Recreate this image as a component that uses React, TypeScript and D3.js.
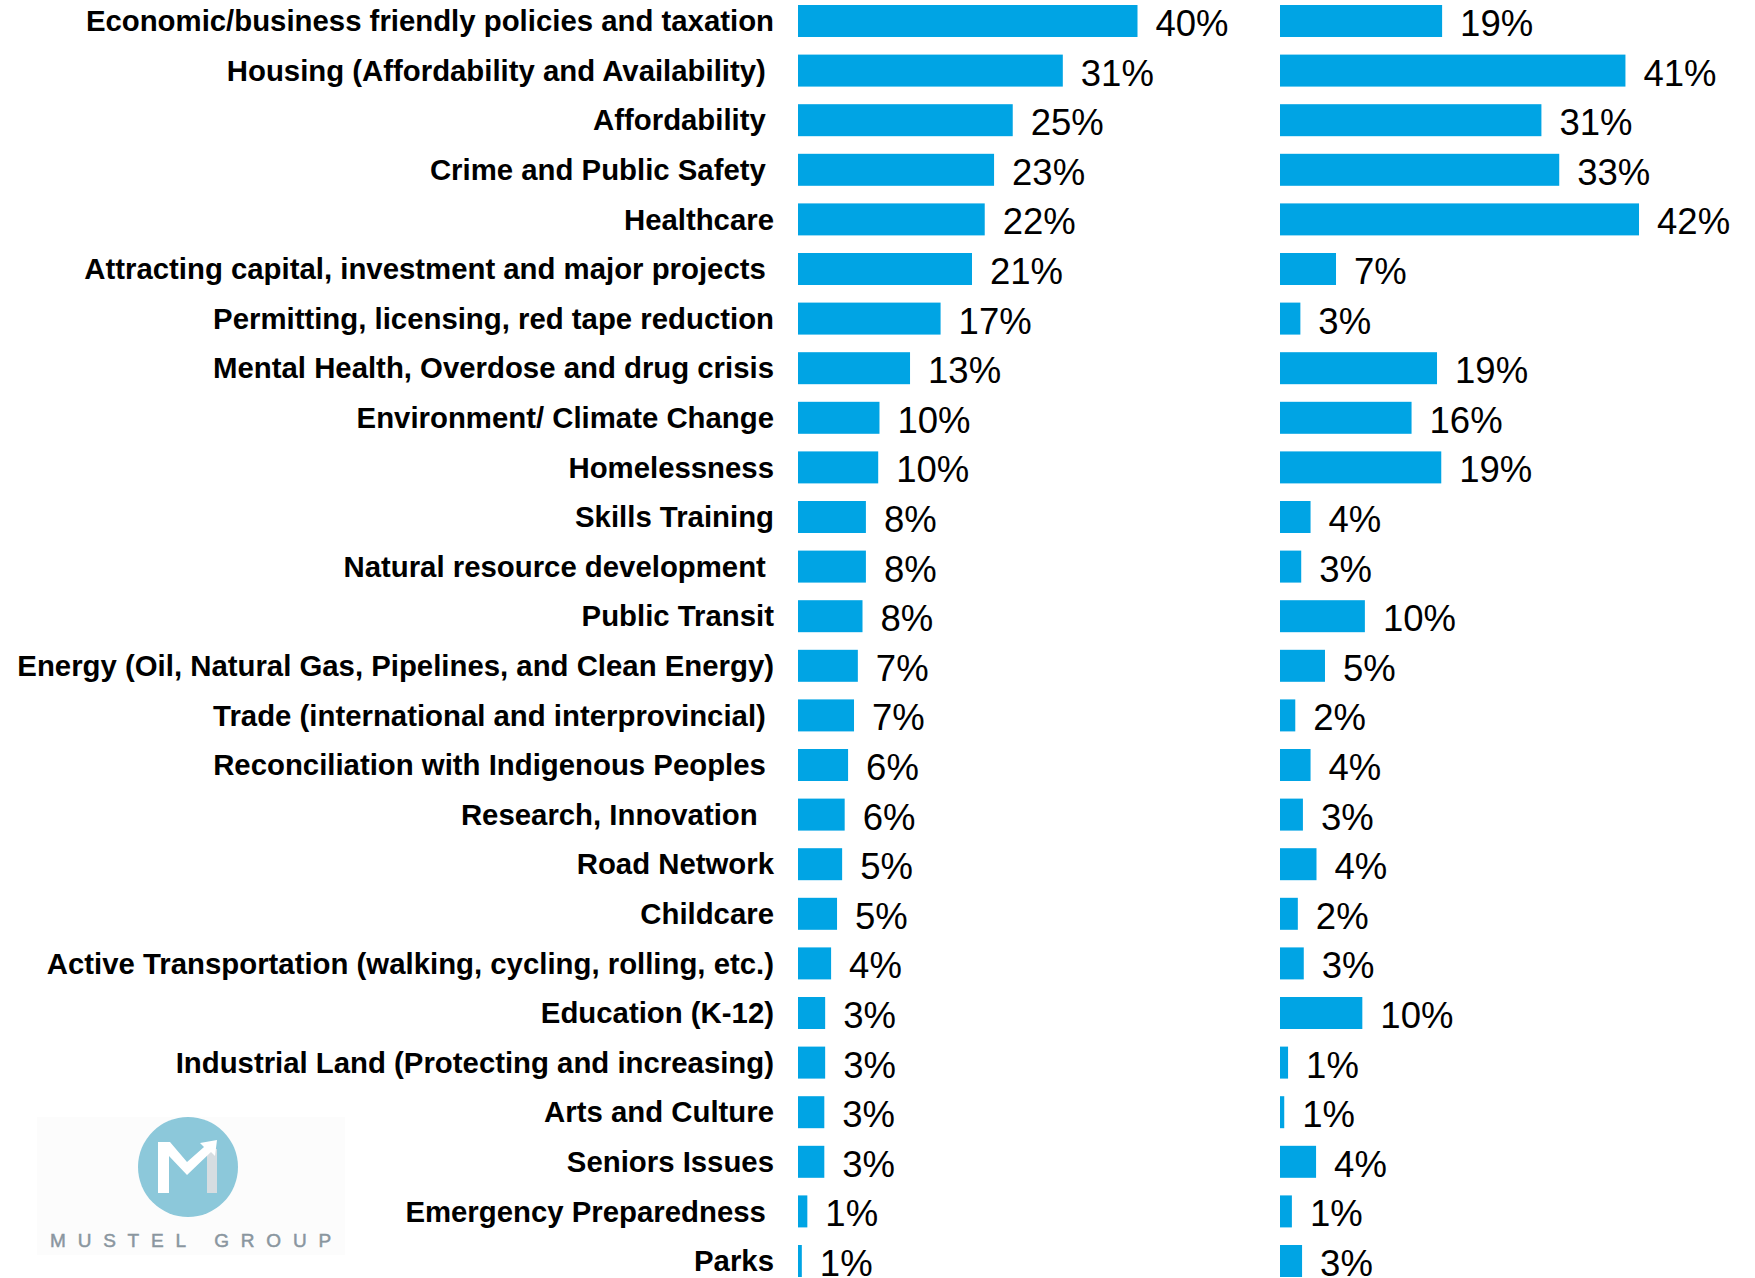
import React from "react";
import * as d3 from "d3";

// Category labels (some original labels carry trailing spaces)
const categories = [
  "Economic/business friendly policies and taxation",
  "Housing (Affordability and Availability) ",
  "Affordability ",
  "Crime and Public Safety ",
  "Healthcare",
  "Attracting capital, investment and major projects ",
  "Permitting, licensing, red tape reduction",
  "Mental Health, Overdose and drug crisis",
  "Environment/ Climate Change",
  "Homelessness",
  "Skills Training",
  "Natural resource development ",
  "Public Transit",
  "Energy (Oil, Natural Gas, Pipelines, and Clean Energy)",
  "Trade (international and interprovincial) ",
  "Reconciliation with Indigenous Peoples ",
  "Research, Innovation  ",
  "Road Network",
  "Childcare",
  "Active Transportation (walking, cycling, rolling, etc.)",
  "Education (K-12)",
  "Industrial Land (Protecting and increasing)",
  "Arts and Culture",
  "Seniors Issues",
  "Emergency Preparedness ",
  "Parks",
];

// Displayed percentage labels
const leftLabels = [40, 31, 25, 23, 22, 21, 17, 13, 10, 10, 8, 8, 8, 7, 7, 6, 6, 5, 5, 4, 3, 3, 3, 3, 1, 1];
const rightLabels = [19, 41, 31, 33, 42, 7, 3, 19, 16, 19, 4, 3, 10, 5, 2, 4, 3, 4, 2, 3, 10, 1, 1, 4, 1, 3];

// Bar lengths as drawn (unrounded)
const leftBars = [40.0, 31.2, 25.3, 23.1, 22.0, 20.5, 16.8, 13.2, 9.6, 9.45, 8.0, 8.0, 7.6, 7.05, 6.6, 5.9, 5.5, 5.2, 4.6, 3.9, 3.2, 3.2, 3.1, 3.1, 1.1, 0.45];
const rightBars = [19.1, 40.7, 30.8, 32.9, 42.3, 6.6, 2.4, 18.5, 15.5, 19.0, 3.6, 2.5, 10.0, 5.3, 1.8, 3.6, 2.7, 4.3, 2.1, 2.8, 9.7, 0.95, 0.5, 4.25, 1.4, 2.6];

const W = 1755;
const H = 1278;
const BAR = "#00a4e4";
const FONT = "'Liberation Sans', Arial, Helvetica, sans-serif";

export default function App() {
  const y = d3
    .scaleBand<string>()
    .domain(categories)
    .range([5, 5 + 25 * 49.6 + 32])
    .paddingInner(0.355)
    .paddingOuter(0);

  const xLeft = d3.scaleLinear().domain([0, 40]).range([798, 1137.5]);
  const xRight = d3.scaleLinear().domain([0, 40]).range([1280, 1619.5]);

  const bw = y.bandwidth();
  const labelRight = 774;

  const panels = [
    { x: xLeft, bars: leftBars, labels: leftLabels },
    { x: xRight, bars: rightBars, labels: rightLabels },
  ];

  return (
    <svg
      width={W}
      height={H}
      viewBox={`0 0 ${W} ${H}`}
      style={{ position: "absolute", left: 0, top: 0, background: "#fff" }}
      fontFamily={FONT}
    >
      <rect x={0} y={0} width={W} height={H} fill="#fff" />

      {/* Logo */}
      <g>
        <rect x={37} y={1117} width={308} height={138} fill="#fcfcfc" />
        <circle cx={188} cy={1167} r={50} fill="#8cc8da" />
        <rect x={207} y={1149} width={10} height={44} fill="#d6dde1" />
        <path
          d="M158,1193 L158,1142 L170,1142 L187,1162 L204,1147 L200,1143 L217,1140 L215,1156 L211,1152 L187,1175 L169,1156 L169,1193 Z"
          fill="#ffffff"
        />
        <text
          x={50}
          y={1247}
          fontSize={19}
          fill="#8a969f"
          stroke="#8a969f"
          strokeWidth={0.5}
          letterSpacing={11.8}
          fontFamily={FONT}
        >
          MUSTEL GROUP
        </text>
      </g>

      {/* Category labels */}
      {categories.map((c) => (
        <text
          key={c}
          x={labelRight}
          y={(y(c) as number) + bw / 2}
          dy="0.35em"
          textAnchor="end"
          fontSize={29.35}
          fontWeight="bold"
          fill="#000"
          xmlSpace="preserve"
          style={{ whiteSpace: "pre" }}
        >
          {c}
        </text>
      ))}

      {panels.map((p, pi) => (
        <g key={pi}>
          {categories.map((c, i) => {
            const x0 = p.x(0);
            const x1 = p.x(p.bars[i]);
            const yy = y(c) as number;
            return (
              <g key={c}>
                <rect x={x0} y={yy} width={x1 - x0} height={bw} fill={BAR} />
                <text
                  x={x1 + 18}
                  y={yy + bw / 2}
                  dy="0.41em"
                  fontSize={36.5}
                  fill="#000"
                >
                  {p.labels[i]}%
                </text>
              </g>
            );
          })}
        </g>
      ))}
    </svg>
  );
}
